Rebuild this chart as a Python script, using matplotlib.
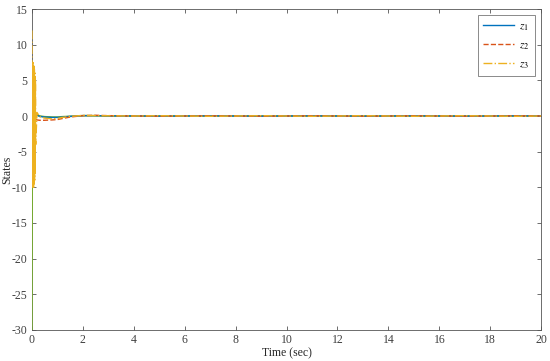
import numpy as np
import matplotlib.pyplot as plt

plt.rcParams['font.family'] = ['Liberation Serif', 'DejaVu Serif']
plt.rcParams['mathtext.fontset'] = 'stix'
plt.rcParams['axes.unicode_minus'] = False

# time samples (sec)
t = [0, 0.01, 0.02, 0.03, 0.04, 0.05, 0.06, 0.07, 0.08, 0.09, 0.10,
     0.11, 0.12, 0.13, 0.14, 0.15, 0.2, 0.3, 0.5, 0.8, 1.0, 1.2, 1.5, 2.0,
     2.5, 3.0, 4.0, 5.0, 6.0, 7.0, 8.0, 9.0, 10.0, 11.0, 12.0, 13.0, 14.0,
     15.0, 16.0, 17.0, 18.0, 19.0, 20.0]

z1 = [0.6, 0.8, 0.5, 0.7, 0.5, 0.6, 0.5, 0.5, 0.45, 0.45, 0.4,
      0.4, 0.35, 0.3, 0.25, 0.2, 0.1, -0.05, -0.15, -0.2, -0.2, -0.15, -0.05, 0.05,
      0.05, 0.02, 0.0, -0.02, 0.0, 0.02, 0.0, -0.02, 0.0, 0.02, 0.0, -0.02, 0.0,
      0.02, 0.0, -0.02, 0.0, 0.02, 0.0]

z2 = [0.3, 0.5, 0.1, 0.4, 0.0, 0.2, -0.1, 0.1, -0.2, 0.0, -0.2,
      -0.3, -0.3, -0.4, -0.45, -0.5, -0.55, -0.6, -0.6, -0.55, -0.5, -0.35, -0.15, 0.05,
      0.1, 0.05, 0.0, -0.03, 0.0, 0.03, 0.0, -0.03, 0.0, 0.03, 0.0, -0.03, 0.0,
      0.03, 0.0, -0.03, 0.0, 0.03, 0.0]

z3 = [12.0, -10.0, 7.5, -10.0, 7.5, -10.0, 7.0, -10.0, 7.0, -9.5, 6.5,
      -9.0, 6.0, -8.0, 5.0, -4.0, 0.5, -0.1, -0.3, -0.4, -0.35, -0.2, -0.05, 0.08,
      0.05, 0.03, 0.0, 0.04, 0.0, -0.04, 0.0, 0.04, 0.0, -0.04, 0.0, 0.04, 0.0,
      -0.04, 0.0, 0.04, 0.0, -0.04, 0.0]

z4 = [-30.0, -11.0, -2.0, 0.5, 0.5, 0.5, 0.45, 0.45, 0.4, 0.4, 0.4,
      0.35, 0.35, 0.3, 0.3, 0.3, 0.2, 0.0, -0.1, -0.15, -0.15, -0.1, -0.05, 0.05,
      0.03, 0.0, 0.0, 0.0, 0.0, 0.0, 0.0, 0.0, 0.0, 0.0, 0.0, 0.0, 0.0,
      0.0, 0.0, 0.0, 0.0, 0.0, 0.0]

fig = plt.figure(figsize=(5.5, 3.61), dpi=100)
ax = fig.add_axes([0.058, 0.086, 0.926, 0.889])

ax.plot(t, z4, color='#77AC30', lw=1.2, ls='-', zorder=3)
ax.plot(t, z1, color='#0072BD', lw=1.0, label='$z_1$', zorder=3)
ax.plot(t, z2, color='#D95319', lw=1.0, ls='--', label='$z_2$', zorder=3)
ax.plot(t, z3, color='#EDB120', lw=1.0, ls='-.', label='$z_3$', zorder=3)

ax.set_xlim(0, 20)
ax.set_ylim(-30, 15)
ax.set_xticks(np.arange(0, 21, 2))
ax.set_yticks(np.arange(-30, 16, 5))
ax.tick_params(direction='in', labelsize=8.5, length=3, width=0.6, pad=3,
               color='#555555', labelcolor='#404040', top=True, right=True)
for s in ax.spines.values():
    s.set_color('#555555')
    s.set_linewidth(0.6)
ax.set_xlabel('Time (sec)', fontsize=8.5, labelpad=1, color='#262626')
ax.set_ylabel('States', fontsize=8.5, color='#262626')
ax.yaxis.set_label_coords(-0.037, 0.5)

leg = ax.legend(loc='upper right', fontsize=8.5, fancybox=False, edgecolor='#555555',
                handlelength=2.6, handletextpad=0.5, borderpad=0.45,
                labelspacing=0.55, borderaxespad=0.5)
leg.get_frame().set_linewidth(0.6)
leg.set_zorder(5)

fig.savefig('out.png', dpi=100)
